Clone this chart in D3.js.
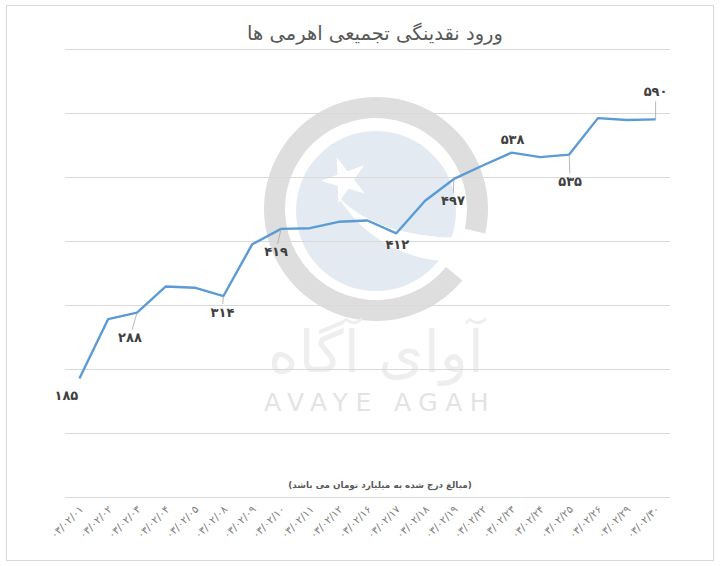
<!DOCTYPE html>
<html>
<head>
<meta charset="utf-8">
<script src="https://cdn.jsdelivr.net/npm/d3@7"></script>
<style>
  body { margin: 0; background: #fff; }
  svg text { font-family: "DejaVu Sans", "Noto Sans", sans-serif; }
</style>
</head>
<body>
<svg id="chart" width="721" height="566"></svg>
<script>
// روزهای معاملاتی (۱۴۰۳/۰۲/..)
var days = ["03/02/01", "03/02/02", "03/02/03", "03/02/04", "03/02/05", "03/02/08", "03/02/09",
    "03/02/10", "03/02/11", "03/02/12", "03/02/16", "03/02/17", "03/02/18", "03/02/19",
    "03/02/22", "03/02/23", "03/02/24", "03/02/25", "03/02/26", "03/02/29", "03/02/30"];
// ورود نقدینگی تجمیعی (میلیارد تومان)
var inflow = [185, 278, 288, 329, 327, 314, 395, 419, 420, 430, 432, 412, 463, 497,
    518, 538, 531, 535, 592, 589, 590];
// which points carry a value label
var labelled = [0, 2, 5, 7, 11, 13, 15, 17, 20];
var yTicks = [0, 100, 200, 300, 400, 500, 600, 700];

var title = "ورود نقدینگی تجمیعی اهرمی ها";
var note = "(مبالغ درج شده به میلیارد تومان می باشد)";

// label placement, relative to the point (dx, dy, leader)
var labelPos = {
    0: [-13, 17, false], 2: [-7, 25, true], 5: [-1, 16, true], 7: [-5, 23, true],
    11: [1, 11, false], 13: [-1, 22, true], 15: [1, -13, false], 17: [1, 27, true], 20: [0, -28, true]
};

function fa(s) {
    return String(s).replace(/[0-9]/g, function (d) { return "۰۱۲۳۴۵۶۷۸۹"[+d]; });
}

var svg = d3.select("#chart");

// frame
svg.append("rect").attr("x", 6.5).attr("y", 5.5).attr("width", 707).attr("height", 555)
    .attr("fill", "#fff").attr("stroke", "#d9d9d9");

var x = d3.scalePoint().domain(days).range([65, 670]).padding(0.5);
var y = d3.scaleLinear().domain([0, 700]).range([497, 49]);

// watermark (logo)
var wm = svg.append("g");
var cx = 376, cy = 209;
var ring = d3.arc().innerRadius(91).outerRadius(112);
wm.append("path").attr("transform", "translate(" + cx + "," + cy + ")")
    .attr("d", ring({ startAngle: Math.PI * 0.72, endAngle: Math.PI * 2.57 }))
    .attr("fill", "#dedede");
wm.append("circle").attr("cx", cx).attr("cy", cy + 2).attr("r", 80).attr("fill", "#e3eaf2");
wm.append("path")
    .attr("d", "M336,194 Q372,236 460,238 L460,262 Q378,262 336,194 Z")
    .attr("fill", "#fff");
var star = d3.symbol().type(d3.symbolStar).size(650);
wm.append("path").attr("d", star()).attr("transform", "translate(345,180) rotate(-20)")
    .attr("fill", "#fff");
wm.append("text").attr("x", cx).attr("y", 372).attr("text-anchor", "middle")
    .attr("font-size", 58).attr("fill", "#eeeeee")
    .text("آوای آگاه");
wm.append("text").attr("x", cx + 4).attr("y", 411).attr("text-anchor", "middle")
    .attr("font-size", 25).attr("letter-spacing", 7.5).attr("fill", "#e3e3e3")
    .text("AVAYE AGAH");

// gridlines
var grid = svg.append("g").attr("transform", "translate(65,0)")
    .call(d3.axisLeft(y).tickValues(yTicks).tickSize(-605).tickFormat(""));
grid.select(".domain").remove();
grid.selectAll(".tick line").attr("stroke", "#d9d9d9").attr("stroke-width", 1);

// x axis labels
var xa = svg.append("g").attr("transform", "translate(0,497)")
    .call(d3.axisBottom(x).tickSize(0).tickFormat(fa));
xa.select(".domain").remove();
xa.selectAll("text")
    .attr("font-size", 10.5).attr("fill", "#7f7f7f")
    .attr("text-anchor", "end").attr("dy", 0).attr("y", 0)
    .attr("transform", "translate(4,13) rotate(-45)");

// line
svg.append("path").datum(inflow)
    .attr("fill", "none").attr("stroke", "#5b9bd5").attr("stroke-width", 2.4)
    .attr("stroke-linejoin", "round")
    .attr("d", d3.line().x(function (d, i) { return x(days[i]); }).y(function (d) { return y(d); }));

// value labels
labelled.forEach(function (i) {
    var px = x(days[i]), py = y(inflow[i]), p = labelPos[i];
    var lx = px + p[0], ly = py + p[1];
    if (p[2]) {
        var ey = p[1] > 0 ? ly - 8 : ly + 10;
        svg.append("line").attr("x1", px).attr("y1", py).attr("x2", lx + (px - lx) * 0.3).attr("y2", ey)
            .attr("stroke", "#a6a6a6").attr("stroke-width", 0.8);
    }
    svg.append("text").attr("x", lx).attr("y", ly).attr("dy", "0.35em")
        .attr("text-anchor", "middle").attr("font-size", 13).attr("font-weight", "bold")
        .attr("fill", "#404040").text(fa(inflow[i]));
});

// title and note
svg.append("text").attr("x", 375).attr("y", 33).attr("dy", "0.35em").attr("text-anchor", "middle")
    .attr("font-size", 19.5).attr("fill", "#595959").attr("direction", "rtl").text(title);
svg.append("text").attr("x", 380).attr("y", 485).attr("dy", "0.35em").attr("text-anchor", "middle")
    .attr("font-size", 8.8).attr("font-weight", "bold").attr("fill", "#595959")
    .attr("direction", "rtl").attr("unicode-bidi", "embed").text(note);
</script>
</body>
</html>
